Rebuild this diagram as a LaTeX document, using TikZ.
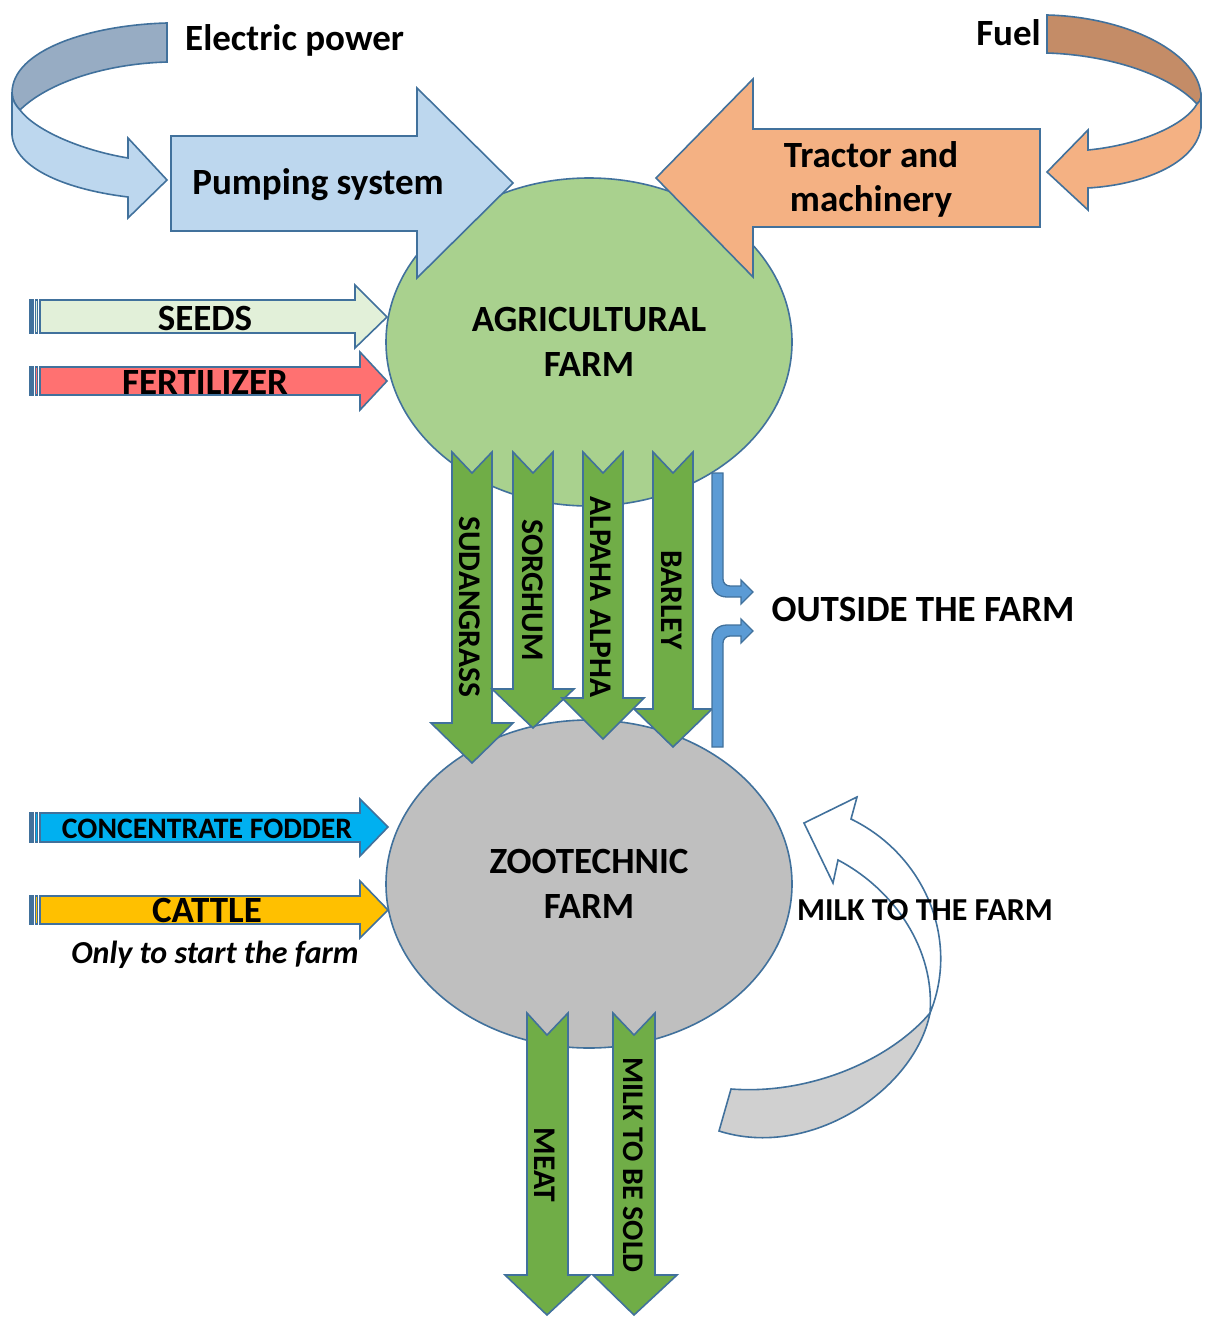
\documentclass[tikz,border=0pt]{standalone}
\usepackage{fontspec}
\setmainfont{Carlito}
\usetikzlibrary{shapes.geometric}
\definecolor{edge}{HTML}{41719C}
\definecolor{bluelight}{HTML}{BDD7EE}
\definecolor{bluedark}{HTML}{97ACC3}
\definecolor{orangelight}{HTML}{F4B183}
\definecolor{orangedark}{HTML}{C48C67}
\definecolor{agrigreen}{HTML}{A9D18E}
\definecolor{zoogray}{HTML}{BFBFBF}
\definecolor{cropgreen}{HTML}{70AD47}
\definecolor{seedgreen}{HTML}{E2F0D9}
\definecolor{fertred}{HTML}{FF7171}
\definecolor{fodderblue}{HTML}{00B0F0}
\definecolor{cattleyellow}{HTML}{FFC000}
\definecolor{outblue}{HTML}{5B9BD5}
\definecolor{milkgray}{HTML}{D0D0D0}

\begin{document}
\begin{tikzpicture}[x=1pt,y=-1pt,
    outline/.style={draw=edge,line width=1.6pt},
    bigtext/.style={font=\fontsize{37}{44}\selectfont\bfseries,align=center,inner sep=0pt},
    midtext/.style={font=\fontsize{32}{38}\selectfont\bfseries,inner sep=0pt},
    croptext/.style={font=\fontsize{31.5}{36}\selectfont\bfseries,rotate=-90,inner sep=0pt},
    farm/.style={ellipse,outline,inner sep=0pt,minimum width=406pt,minimum height=328pt,
        font=\fontsize{37}{45}\selectfont\bfseries,align=center}]
    \useasboundingbox (0,0) rectangle (1205,1317);

    \node[farm,fill=agrigreen] (agri) at (589,342) {AGRICULTURAL\\FARM};
    \node[farm,fill=zoogray] (zoo) at (589,884) {ZOOTECHNIC\\FARM};

    \draw[outline,fill=bluedark] (167,23) .. controls (90,25) and (12,50) .. (12,93)
        .. controls (12,100) and (16,106) .. (20,110)
        .. controls (45,85) and (100,64) .. (167,62) -- cycle;
    \draw[outline,fill=bluelight] (12,93) -- (12,135) .. controls (15,170) and (70,190) .. (128,197)
        -- (128,218) -- (167,180) -- (128,138) -- (128,158)
        .. controls (80,150) and (35,130) .. (20,110)
        .. controls (16,106) and (12,100) .. (12,93) -- cycle;
    \node[bigtext,anchor=west] (elec) at (185,40) {Electric power};

    \draw[outline,fill=orangedark] (1047,15) .. controls (1130,17) and (1201,55) .. (1201,97)
        .. controls (1201,100) and (1199,102) .. (1197,104)
        .. controls (1170,75) and (1110,55) .. (1047,53) -- cycle;
    \draw[outline,fill=orangelight] (1201,97) -- (1201,128) .. controls (1195,165) and (1140,185) .. (1088,188)
        -- (1088,210) -- (1047,172) -- (1088,130) -- (1088,150)
        .. controls (1140,145) and (1185,125) .. (1197,104)
        .. controls (1199,102) and (1201,100) .. (1201,97) -- cycle;
    \node[bigtext,anchor=east] (fuel) at (1041,33) {Fuel};

    \draw[outline,fill=bluelight] (171,136) -- (417,136) -- (417,88) -- (513,183) -- (417,278)
        -- (417,231) -- (171,231) -- cycle;
    \node[bigtext] (pump) at (318,185) {Pumping system};

    \draw[outline,fill=orangelight] (1040,129) -- (753,129) -- (753,79) -- (656,178) -- (753,277)
        -- (753,227) -- (1040,227) -- cycle;
    \node[bigtext] (tractor) at (871,179) {Tractor and\\machinery};

    \draw[outline,fill=edge] (30,300) rectangle (33,333);
    \draw[outline,fill=seedgreen] (35.5,300) rectangle (37.5,333);
    \draw[outline,fill=seedgreen] (40,300) -- (355,300) -- (355,285) -- (387,317) -- (355,348)
        -- (355,333) -- (40,333) -- cycle;
    \node[bigtext] (seeds) at (205,318) {SEEDS};

    \draw[outline,fill=edge] (30,367) rectangle (33,395);
    \draw[outline,fill=fertred] (35.5,367) rectangle (37.5,395);
    \draw[outline,fill=fertred] (40,367) -- (360,367) -- (360,352) -- (387,381) -- (360,410)
        -- (360,395) -- (40,395) -- cycle;
    \node[bigtext] (fert) at (205,382) {FERTILIZER};

    \draw[outline,fill=cropgreen] (452,452) -- (472,473) -- (492,452) -- (492,723) -- (513,723)
        -- (472,763) -- (431,723) -- (452,723) -- cycle;
    \draw[outline,fill=cropgreen] (513,452) -- (533,473) -- (553,452) -- (553,689) -- (574,689)
        -- (533,728) -- (492,689) -- (513,689) -- cycle;
    \draw[outline,fill=cropgreen] (583,452) -- (603,473) -- (623,452) -- (623,698) -- (644,698)
        -- (603,739) -- (562,698) -- (583,698) -- cycle;
    \draw[outline,fill=cropgreen] (653,452) -- (673,473) -- (693,452) -- (693,709) -- (712,709)
        -- (673,747) -- (634,709) -- (653,709) -- cycle;
    \node[croptext] (sudan) at (470,607) {SUDANGRASS};
    \node[croptext] (sorghum) at (533,590) {SORGHUM};
    \node[croptext] (alpha) at (601,597) {ALPAHA ALPHA};
    \node[croptext] (barley) at (672,600) {BARLEY};

    \draw[outline,fill=outblue,line width=1.3pt] (712,473) -- (712,582) .. controls (712,591) and (718,597) .. (727,597)
        -- (741,597) -- (741,604) -- (753,592) -- (741,580) -- (741,586) -- (730,586)
        .. controls (726,586) and (723,583) .. (723,579) -- (723,473) -- cycle;
    \draw[outline,fill=outblue,line width=1.3pt] (712,747) -- (712,640) .. controls (712,631) and (718,625) .. (727,625)
        -- (741,625) -- (741,619) -- (753,631) -- (741,643) -- (741,636) -- (730,636)
        .. controls (726,636) and (723,639) .. (723,643) -- (723,747) -- cycle;
    \node[bigtext] (outside) at (923,609) {OUTSIDE THE FARM};

    \draw[outline,fill=edge] (30,813) rectangle (33,842);
    \draw[outline,fill=fodderblue] (35.5,813) rectangle (37.5,842);
    \draw[outline,fill=fodderblue] (40,813) -- (360,813) -- (360,799) -- (388,827) -- (360,856)
        -- (360,842) -- (40,842) -- cycle;
    \node[font=\fontsize{29.7}{34}\selectfont\bfseries,inner sep=0pt] (fodder) at (207,829) {CONCENTRATE FODDER};

    \draw[outline,fill=edge] (30,896) rectangle (33,924);
    \draw[outline,fill=cattleyellow] (35.5,896) rectangle (37.5,924);
    \draw[outline,fill=cattleyellow] (40,896) -- (360,896) -- (360,881) -- (388,910) -- (360,938)
        -- (360,924) -- (40,924) -- cycle;
    \node[bigtext] (cattle) at (207,910) {CATTLE};
    \node[midtext,font=\fontsize{32}{38}\selectfont\bfseries\itshape] (onlystart) at (215,955) {Only to start the farm};

    \draw[outline,fill=milkgray] (930,1013) .. controls (890,1060) and (810,1095) .. (731,1089)
        -- (719,1131) .. controls (810,1160) and (915,1090) .. (930,1013) -- cycle;
    \draw[outline,fill=white] (804,823) -- (857,797) -- (851,819)
        .. controls (925,855) and (960,940) .. (930,1013)
        .. controls (935,950) and (895,890) .. (838,860) -- (833,883) -- cycle;
    \node[midtext] (milkfarm) at (925,910) {MILK TO THE FARM};

    \draw[outline,fill=cropgreen] (527,1013) -- (547,1035) -- (568,1013) -- (568,1275) -- (590,1275)
        -- (547,1315) -- (505,1275) -- (527,1275) -- cycle;
    \draw[outline,fill=cropgreen] (613,1013) -- (634,1035) -- (655,1013) -- (655,1275) -- (677,1275)
        -- (634,1315) -- (593,1275) -- (613,1275) -- cycle;
    \node[croptext] (meat) at (545,1165) {MEAT};
    \node[croptext,font=\fontsize{30}{36}\selectfont\bfseries] (milksold) at (633,1165) {MILK TO BE SOLD};
\end{tikzpicture}
\end{document}
